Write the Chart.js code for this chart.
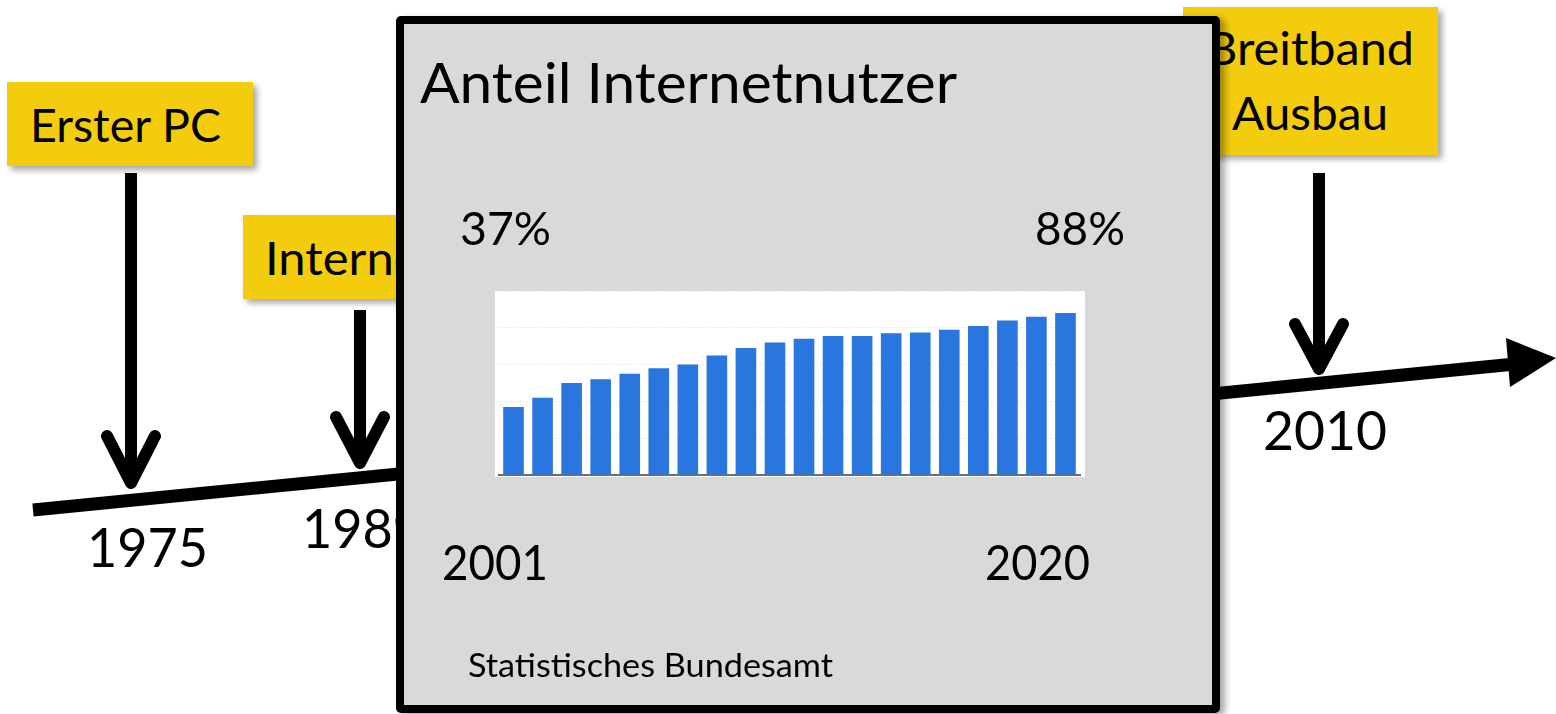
<!DOCTYPE html>
<html lang="de">
<head>
<meta charset="utf-8">
<title>Anteil Internetnutzer</title>
<script src="https://cdn.jsdelivr.net/npm/chart.js@4"></script>
<style>
  html, body { margin: 0; padding: 0; background: #fff; }
  body { width: 1556px; height: 714px; position: relative; overflow: hidden; font-family: Lato, "Open Sans", sans-serif; }
  svg.layer { position: absolute; left: 0; top: 0; }
  svg text { font-family: Lato, "Open Sans", sans-serif; fill: #000; }
  #panel {
    position: absolute; left: 396px; top: 16px; width: 824px; height: 697px;
    box-sizing: border-box; border: 8px solid #000; border-radius: 5px;
    background: #d9d9d9; box-shadow: 5px 3px 7px rgba(0,0,0,0.35); z-index: 2;
  }
  #chartBox { position: absolute; left: 495px; top: 291px; width: 590px; height: 186px; background: #fff; z-index: 3; }
  #front { z-index: 4; pointer-events: none; }
</style>
</head>
<body>

<!-- Zeitstrahl im Hintergrund -->
<svg class="layer" width="1556" height="714" style="z-index:1">
  <defs>
    <filter id="shadow" x="-10%" y="-10%" width="130%" height="130%">
      <feDropShadow dx="4" dy="4" stdDeviation="3" flood-color="#000" flood-opacity="0.35"/>
    </filter>
  </defs>

  <line x1="33" y1="510" x2="1510" y2="364.5" stroke="#000" stroke-width="13"/>
  <polygon points="1506,338 1556,358 1510,387" fill="#000"/>

  <g stroke="#000" stroke-width="12" fill="none" stroke-linecap="round" stroke-linejoin="round">
    <line x1="131" y1="173" x2="131" y2="480" stroke-linecap="butt"/>
    <polyline points="107,436 131,483 155,436"/>
    <line x1="360" y1="310" x2="360" y2="460" stroke-linecap="butt"/>
    <polyline points="336,417 360,463 384,417"/>
    <line x1="1319" y1="173" x2="1319" y2="366" stroke-linecap="butt"/>
    <polyline points="1295,324 1319,369 1343,324"/>
  </g>

  <rect x="7" y="82" width="246" height="84" fill="#f2cc0c" filter="url(#shadow)"/>
  <rect x="243" y="215" width="230" height="84" fill="#f2cc0c" filter="url(#shadow)"/>
  <rect x="1183" y="7" width="255" height="148" fill="#f2cc0c" filter="url(#shadow)"/>

  <text x="30" y="142" font-size="47" textLength="191" lengthAdjust="spacingAndGlyphs">Erster PC</text>
  <text x="265" y="275" font-size="46" textLength="172" lengthAdjust="spacingAndGlyphs">Internet</text>
  <text x="1206" y="65" font-size="47" textLength="208" lengthAdjust="spacingAndGlyphs">Breitband</text>
  <text x="1232" y="130" font-size="47" textLength="156" lengthAdjust="spacingAndGlyphs">Ausbau</text>

  <text x="87" y="567" font-size="55" textLength="121" lengthAdjust="spacingAndGlyphs">1975</text>
  <text x="302" y="548" font-size="55" textLength="121" lengthAdjust="spacingAndGlyphs">1989</text>
  <text x="1263" y="450" font-size="55" textLength="124" lengthAdjust="spacingAndGlyphs">2010</text>
</svg>

<div id="panel"></div>
<div id="chartBox"><canvas id="chartNutzer"></canvas></div>

<!-- Texte im Kasten -->
<svg class="layer" id="front" width="1556" height="714">
  <text x="420" y="103" font-size="57" textLength="537" lengthAdjust="spacingAndGlyphs">Anteil Internetnutzer</text>
  <text id="pctFirst" x="460" y="245" font-size="46" textLength="91" lengthAdjust="spacingAndGlyphs"></text>
  <text id="pctLast" x="1035" y="245" font-size="46" textLength="90" lengthAdjust="spacingAndGlyphs"></text>
  <text id="yearFirst" x="442" y="580" font-size="48" textLength="106" lengthAdjust="spacingAndGlyphs"></text>
  <text id="yearLast" x="985" y="580" font-size="48" textLength="105" lengthAdjust="spacingAndGlyphs"></text>
  <text x="468" y="677" font-size="33" textLength="365" lengthAdjust="spacingAndGlyphs">Statistisches Bundesamt</text>
</svg>

<script>
const years = ['2001', '2002', '2003', '2004', '2005', '2006', '2007', '2008', '2009', '2010',
               '2011', '2012', '2013', '2014', '2015', '2016', '2017', '2018', '2019', '2020'];
const shares = [37, 42, 50, 52, 55, 58, 60, 65, 69, 72,
                74, 75.5, 75.5, 77, 77.5, 79, 81, 84, 86, 88];
const yTicks = [0, 20, 40, 60, 80, 100];

// Beschriftungen an den Enden
document.getElementById('pctFirst').textContent = shares[0] + '%';
document.getElementById('pctLast').textContent = shares[shares.length - 1] + '%';
document.getElementById('yearFirst').textContent = years[0];
document.getElementById('yearLast').textContent = years[years.length - 1];

const ctx = document.getElementById('chartNutzer');
new Chart(ctx, {
    type: 'bar',
    data: {
        labels: years,
        datasets: [{
            data: shares,
            backgroundColor: '#2977de',
            barPercentage: 0.71,
            categoryPercentage: 1
        }]
    },
    options: {
        responsive: true,
        maintainAspectRatio: false,
        animation: false,
        layout: { padding: { left: 4, right: 5, top: 0, bottom: 2 } },
        plugins: {
            legend: { display: false },
            tooltip: { enabled: false }
        },
        scales: {
            x: {
                grid: { display: false, drawTicks: false },
                ticks: { display: false },
                border: { display: true, color: '#6e6e6e', width: 2 }
            },
            y: {
                min: 0,
                max: 100,
                afterBuildTicks: function(axis) {
                    axis.ticks = yTicks.map(v => ({ value: v }));
                },
                ticks: { display: false },
                grid: { color: '#e2e2e2', lineWidth: 1, drawTicks: false },
                border: { display: false, dash: [1, 2] }
            }
        }
    }
});
</script>
</body>
</html>
